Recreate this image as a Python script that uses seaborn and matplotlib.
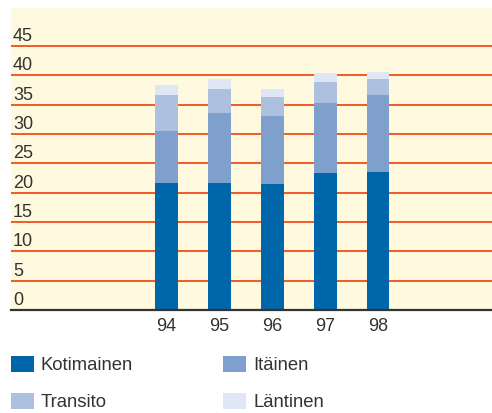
import matplotlib
matplotlib.use("Agg")
import matplotlib.pyplot as plt
from matplotlib.patches import Rectangle
import seaborn as sns
import numpy as np
import pandas as pd

years = ["94", "95", "96", "97", "98"]
series = ["Kotimainen", "Itäinen", "Transito", "Läntinen"]
kotimainen = [21.7, 21.7, 21.5, 23.4, 23.6]
itainen = [8.9, 11.9, 11.6, 11.9, 13.0]
transito = [6.1, 4.1, 3.3, 3.6, 2.8]
lantinen = [1.7, 1.7, 1.3, 1.5, 1.2]
yticks = [0, 5, 10, 15, 20, 25, 30, 35, 40, 45]
colors = ["#0066AA", "#7F9FCC", "#ADC0E0", "#E0E7F4"]

sns.set_theme(style="white")
plt.rcParams["font.family"] = ["Liberation Sans", "DejaVu Sans"]

W, H = 492, 414
fig = plt.figure(figsize=(W / 100, H / 100), dpi=100)
ax = fig.add_axes([11 / W, (H - 311) / H, (W - 11) / W, (311 - 9) / H])
ax.set_facecolor("#FFFADF")

layers = [kotimainen, itainen, transito, lantinen]
cum = np.cumsum(np.array(layers), axis=0)
for i in range(len(layers) - 1, -1, -1):
    df = pd.DataFrame({"year": years, "value": cum[i]})
    sns.barplot(data=df, x="year", y="value", order=years, color=colors[i],
                saturation=1, width=0.43, ax=ax, zorder=3,
                edgecolor="none", linewidth=0)

for v in yticks[1:]:
    ax.axhline(v, color="#F05A28", lw=1.4, zorder=1)
for v in yticks:
    ax.text(2 / (W - 11), v + 0.35, str(v), transform=ax.get_yaxis_transform(),
            ha="left", va="bottom", fontsize=13, color="#333333", zorder=4)

ax.set_xlim(-2.93, 6.15)
ax.set_ylim(0, 51.5)
ax.set_yticks([])
ax.set_xlabel("")
ax.set_ylabel("")
ax.tick_params(axis="x", length=0, labelsize=13, labelcolor="#333333", pad=5)
for s in ["top", "right", "left"]:
    ax.spines[s].set_visible(False)
ax.spines["bottom"].set_color("#333333")
ax.spines["bottom"].set_linewidth(1.6)
ax.spines["bottom"].set_zorder(5)

# legend
pos = [(11, 357), (223, 357), (11, 394), (223, 394)]
for (px, py), name, c in zip(pos, series, colors):
    fig.add_artist(Rectangle((px / W, 1 - (py + 16) / H), 23 / W, 16 / H,
                             transform=fig.transFigure, facecolor=c, edgecolor="none"))
    fig.text((px + 30) / W, 1 - (py + 8.5) / H, name, ha="left", va="center",
             fontsize=13.3, color="#333333")

fig.savefig("out.png", dpi=100)
